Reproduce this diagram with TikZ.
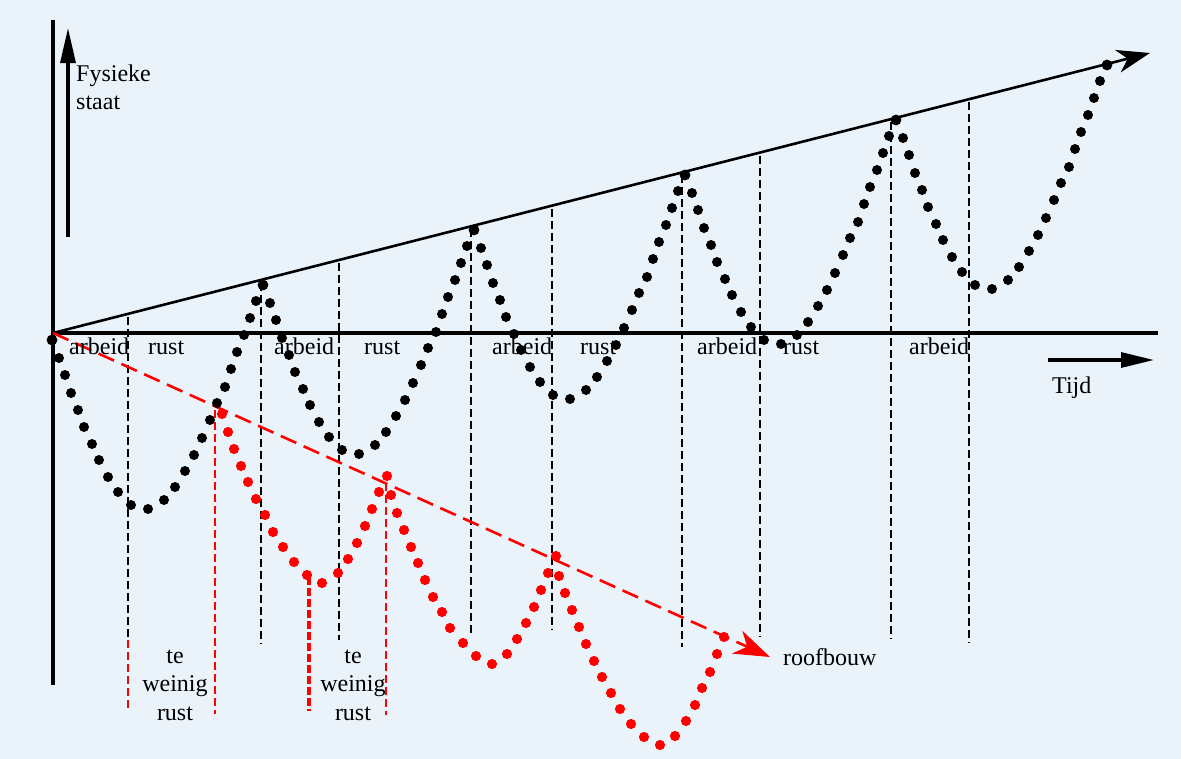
\documentclass[tikz,border=0pt]{standalone}
\usepackage{fontspec}
\setmainfont{Liberation Serif}
\usetikzlibrary{arrows.meta}
\definecolor{bgblue}{RGB}{235,243,250}
\begin{document}
\begin{tikzpicture}[x=1bp,y=-1bp,
  lbl/.style={font=\fontsize{24bp}{28.5bp}\selectfont, inner sep=0pt, anchor=base west},
  blk/.style={font=\fontsize{24bp}{28.5bp}\selectfont, inner sep=0pt, align=center, anchor=base},
  bdash/.style={black, line width=2.4bp, dash pattern=on 8bp off 4bp},
  rdash/.style={red, line width=2.4bp, dash pattern=on 8bp off 4bp},
  rdashthick/.style={red, line width=3.6bp, dash pattern=on 8bp off 3bp},
  axisline/.style={black, line width=3.2bp},
  bdot/.style={fill=black},
  rdot/.style={fill=red}]
\fill[bgblue] (0,0) rectangle (1181,759);
\useasboundingbox (0,0) rectangle (1181,759);
% axes
\coordinate (O) at (53,333);
\coordinate (yTop) at (53,20);
\coordinate (yBot) at (53,685);
\coordinate (xEnd) at (1158,333);
\draw[axisline] (yTop) -- (yBot);
\draw[axisline] (O) -- (xEnd);
% y arrow
\coordinate (ya0) at (68,237);
\coordinate (ya1) at (68,28);
\draw[axisline, -{Triangle[length=35bp,width=15bp]}] (ya0) -- (ya1);
% time arrow
\coordinate (ta0) at (1048,360);
\coordinate (ta1) at (1154,360);
\draw[axisline, -{Triangle[length=33bp,width=15bp]}] (ta0) -- (ta1);
% dashed verticals (black)
\foreach \x/\b in {128/640,261/644,339/640,471/637,552/630,682/647,760/637,891/639,969/643}
  \draw[bdash] (\x,{333-(\x-53)*0.25524+3}) -- (\x,\b);
% dashed verticals (red)
\draw[rdash] (128,640) -- (128,712);
\draw[rdash] (215,410) -- (215,714);
\draw[rdashthick] (309,577) -- (309,711);
\draw[rdash] (386,483) -- (386,715);
% trend line
\coordinate (T) at (1150,53);
\draw[black, line width=2.6bp, -{Stealth[length=33bp,width=23bp,inset=10bp]}] (O) -- (T);
% roofbouw line
\coordinate (R) at (770,657);
\draw[red, line width=2.6bp, dash pattern=on 17bp off 8bp, -{Stealth[length=36bp,width=25bp,inset=11bp]}] (O) -- (R);
% black dots
\foreach \k in {0,...,4}{
  \foreach \dx/\dy in {7/18,13/35,19/53,26/70,32/87,40/104,47/120,56/137,66/152,79/165,96/169,112/160,123/147,133/131,142/115,150/98,158/80,165/63,173/47,179/29,185/12,192/-5,198/-22,204/-39}
    \fill[bdot] ({52+211*\k+\dx},{340-55*\k+\dy}) circle[radius=5bp];
  \fill[bdot] ({52+211*\k},{340-55*\k}) circle[radius=5.4bp];
}
\fill[bdot] (1107,65) circle[radius=5.4bp];
% red dots
\foreach \px/\py in {222/414,228/432,234/449,241/466,248/482,256/499,265/515,273/532,283/547,294/562,307/575,322/583,338/573,348/559,357/543,365/526,372/509,379/492,387/476,
  391/495,397/513,404/530,411/547,418/563,425/580,433/597,442/612,450/628,463/643,476/656,492/664,507/654,517/639,526/623,534/607,541/590,548/573,556/556,
  559/576,565/593,572/610,579/627,586/644,594/661,602/677,611/693,620/709,631/724,644/737,660/745,675/736,686/721,695/705,702/688,710/672,717/654,724/637}
  \fill[rdot] (\px,\py) circle[radius=5.1bp];
% labels
\node[lbl] (fys) at (76,82) {Fysieke};
\node[lbl] (staat) at (76,110) {staat};
\node[lbl] (tijd) at (1052,393) {Tijd};
\node[lbl] (roof) at (783,665) {roofbouw};
\node[lbl] (a1) at (69,354) {arbeid};
\node[lbl] (r1) at (148,354) {rust};
\node[lbl] (a2) at (274,354) {arbeid};
\node[lbl] (r2) at (364,354) {rust};
\node[lbl] (a3) at (492,354) {arbeid};
\node[lbl] (r3) at (580,354) {rust};
\node[lbl] (a4) at (697,354) {arbeid};
\node[lbl] (r4) at (783,354) {rust};
\node[lbl] (a5) at (909,354) {arbeid};
\node[blk] (w1) at (175,720) {te\\weinig\\rust};
\node[blk] (w2) at (353,720) {te\\weinig\\rust};
\end{tikzpicture}
\end{document}
